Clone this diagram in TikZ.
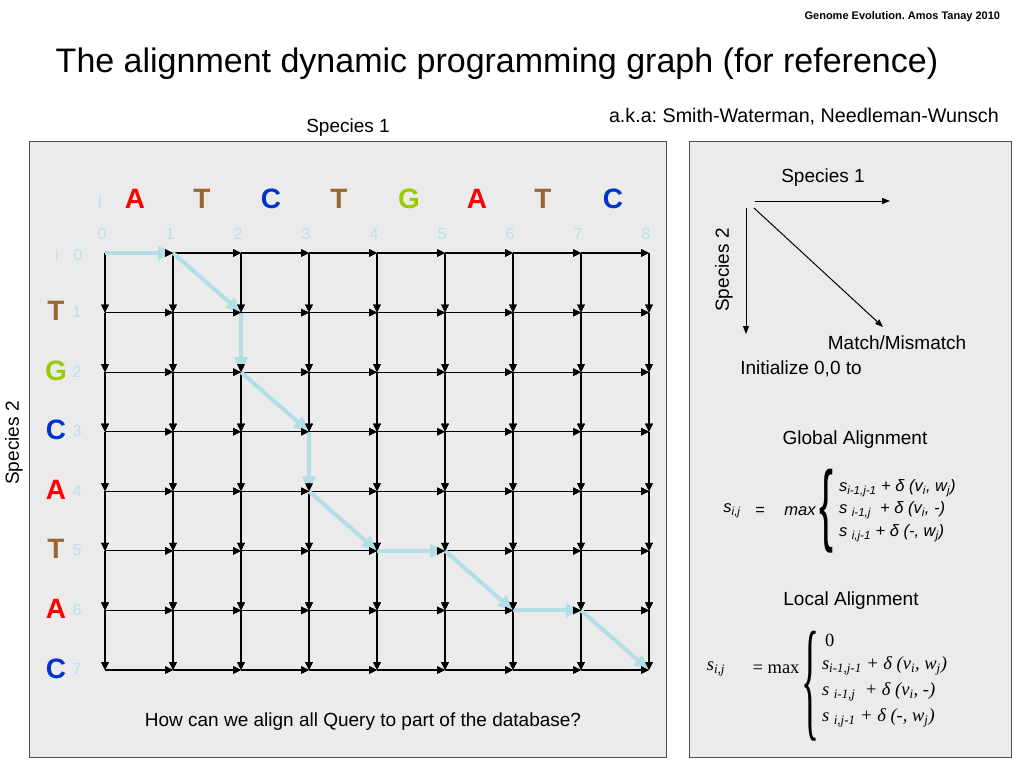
\documentclass[tikz,border=0pt]{standalone}
\usepackage{fontspec}
\setmainfont{Liberation Sans}
\newfontfamily\tnr{Liberation Serif}
\frenchspacing
\usetikzlibrary{arrows.meta,calc}
\definecolor{panelfill}{RGB}{235,235,235}
\definecolor{panelline}{RGB}{80,80,80}
\definecolor{pathblue}{RGB}{178,222,230}
\definecolor{idxblue}{RGB}{186,224,234}
\definecolor{nred}{RGB}{255,0,0}
\definecolor{nbrown}{RGB}{153,102,51}
\definecolor{nblue}{RGB}{0,51,204}
\definecolor{ngreen}{RGB}{153,204,0}
\newcommand\fs[1]{\fontsize{#1}{#1}\selectfont}
\newcommand\sbx[1]{\textsubscript{#1}}
\newcommand\bigbrace[3]{\resizebox*{#1}{#2}{#3\fs{80}\{}}
\tikzset{
  panel/.style={draw=panelline, fill=panelfill, line width=1pt},
  ed/.style={draw=black, line width=1.1pt, -{Triangle[length=8pt,width=7.5pt]}},
  tiponly/.style={draw=black, line width=1.1pt, -{Triangle[length=8pt,width=7.5pt]}},
  bp/.style={draw=pathblue, line width=4pt, -{Triangle[length=15pt,width=13pt]}},
  thinarr/.style={draw=black, line width=1pt, -{Triangle[length=8pt,width=6pt]}},
  base/.style={inner sep=0pt, outer sep=0pt},
  lab/.style={base, font=\fs{19}},
  nuc/.style={base, font=\fs{28}\bfseries},
  idx/.style={base, font=\fs{16}, text=idxblue},
  gform/.style={base, font=\fs{16.5}\itshape},
  lform/.style={base, font=\tnr\fs{18.5}},
}
\begin{document}
\begin{tikzpicture}[x=1pt,y=-1pt]
\useasboundingbox (0,0) rectangle (1024,768);
\fill[white] (0,0) rectangle (1024,768);
% header
\node[base, font=\fs{11}\bfseries, anchor=east] (hdr) at (1000,17) {Genome Evolution. Amos Tanay 2010};
\node[base, font=\fs{34}] (title) at (497,64) {The alignment dynamic programming graph (for reference)};
\node[base, font=\fs{19.7}, anchor=west] (aka) at (609,117) {a.k.a: Smith-Waterman, Needleman-Wunsch};
\node[lab] (sp1) at (348,128) {Species 1};
\node[lab, rotate=90] (sp2) at (14,443) {Species 2};
% panels
\path[panel] (29,141) rectangle (666,757);
\path[panel] (689,141) rectangle (1011,757);
% grid coordinates
\foreach \i in {0,...,7}{
  \foreach \j in {0,...,8}{
    \coordinate (n\i-\j) at ({105+68*\j},{253+59.57*\i});
  }
}
% horizontal edges
\foreach \i in {0,...,7}{
  \foreach \j in {0,...,7}{
    \pgfmathtruncatemacro\k{\j+1}
    \draw[ed] (n\i-\j) -- (n\i-\k);
  }
}
% vertical edges
\foreach \i in {0,...,6}{
  \pgfmathtruncatemacro\k{\i+1}
  \foreach \j in {0,...,8}{
    \draw[ed] (n\i-\j) -- (n\k-\j);
  }
}
% alignment path
\foreach \a/\b in {0-0/0-1, 0-1/1-2, 1-2/2-2, 2-2/3-3, 3-3/4-3, 4-3/5-4, 5-4/5-5, 5-5/6-6, 6-6/6-7, 6-7/7-8}{
  \draw[bp] (n\a) -- (n\b);
}
% black arrow tips drawn again over the path
\foreach \i in {0,...,7}{
  \foreach \j in {1,...,8}{
    \pgfmathtruncatemacro\k{\j-1}
    \draw[tiponly] ($(n\i-\j)!8.2pt!(n\i-\k)$) -- (n\i-\j);
  }
}
\foreach \i in {1,...,7}{
  \pgfmathtruncatemacro\k{\i-1}
  \foreach \j in {0,...,8}{
    \draw[tiponly] ($(n\i-\j)!8.2pt!(n\k-\j)$) -- (n\i-\j);
  }
}
% top sequence
\node[idx] (jl) at (100,201) {j};
\foreach \x/\c/\t [count=\n] in {135/nred/A, 202/nbrown/T, 271/nblue/C, 339/nbrown/T, 409/ngreen/G, 477/nred/A, 543/nbrown/T, 613/nblue/C}{
  \node[nuc, text=\c] (top\n) at (\x,199) {\t};
}
\foreach \j in {0,...,8}{
  \node[idx] (cj\j) at ({102+68*\j},234) {\j};
}
% left sequence
\node[idx] (il) at (57,255) {i};
\node[idx] (ri0) at (78,255) {0};
\foreach \c/\t [count=\n] in {nbrown/T, ngreen/G, nblue/C, nred/A, nbrown/T, nred/A, nblue/C}{
  \node[nuc, text=\c] (left\n) at (56,{311+59.57*(\n-1)}) {\t};
  \node[idx] (ri\n) at (77,{312+59.57*(\n-1)}) {\n};
}
\node[lab] (q) at (363,722) {How can we align all Query to part of the database?};
% right panel legend
\node[lab] (rsp1) at (823,178) {Species 1};
\coordinate (o1) at (755,201);
\coordinate (e1) at (890,201);
\coordinate (o2) at (746,208);
\coordinate (e2) at (746,334);
\coordinate (o3) at (754,208);
\coordinate (e3) at (883,327);
\draw[thinarr] (o1) -- (e1);
\draw[thinarr] (o2) -- (e2);
\draw[thinarr] (o3) -- (e3);
\node[lab, rotate=90] (rsp2) at (724,270) {Species 2};
\node[lab] (mm) at (897,343) {Match/Mismatch};
\node[lab] (init) at (801,369) {Initialize 0,0 to};
\node[lab] (glob) at (855,440) {Global Alignment};
% global formula
\node[gform] (gs) at (732,511) {s\sbx{i,j}};
\node[gform] (geq) at (760,511) {=};
\node[gform] (gmax) at (800,511) {max};
\node[base] (gbr) at (826,511) {\bigbrace{14pt}{84pt}{}};
\node[gform, anchor=west] (g1) at (839,488) {s\sbx{i-1,j-1} + δ (v\sbx{i}, w\sbx{j})};
\node[gform, anchor=west] (g2) at (839,510) {s \sbx{i-1,j}\ \ + δ (v\sbx{i}, -)};
\node[gform, anchor=west] (g3) at (839,533) {s \sbx{i,j-1} + δ (-, w\sbx{j})};
% local
\node[lab] (loc) at (851,601) {Local Alignment};
\node[lform] (ls) at (716,669) {\itshape s\sbx{i,j}};
\node[lform] (leq) at (776,669) {= max};
\node[base] (lbr) at (810,686) {\bigbrace{18pt}{110pt}{\tnr}};
\node[lform, anchor=west] (l0) at (825,640) {0};
\node[lform, anchor=west] (l1) at (822,666) {\itshape s\sbx{i-1,j-1} + δ (v\sbx{i}, w\sbx{j})};
\node[lform, anchor=west] (l2) at (822,692) {\itshape s \sbx{i-1,j}\ \ + δ (v\sbx{i}, -)};
\node[lform, anchor=west] (l3) at (822,718) {\itshape s \sbx{i,j-1} + δ (-, w\sbx{j})};
\end{tikzpicture}
\end{document}
